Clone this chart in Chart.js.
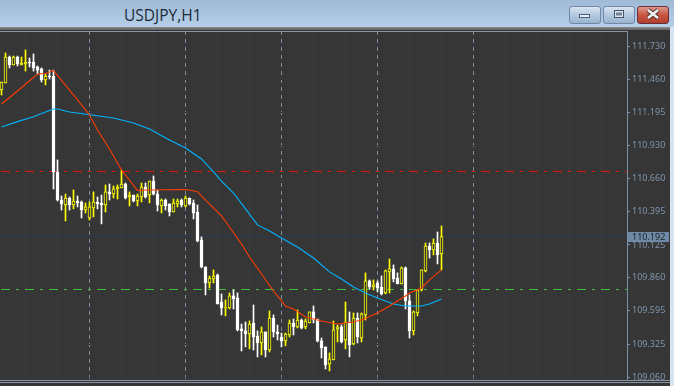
<!DOCTYPE html>
<html><head><meta charset="utf-8">
<script src="https://cdn.jsdelivr.net/npm/chart.js@4"></script>
<style>
html,body{margin:0;padding:0;width:674px;height:386px;overflow:hidden;background:#d6e4f1}
#bar{position:absolute;left:0;top:0;width:674px;height:27px;background:linear-gradient(#9fbad5,#b6cfe8)}
#sep{position:absolute;left:0;top:27px;width:670px;height:3px;background:linear-gradient(#8c8c8c,#5f5f5f)}
#dark{position:absolute;left:0;top:30px;width:670px;height:356px;background:#363636}
#title{position:absolute;left:124px;top:5px;font:15.5px "Open Sans",sans-serif;color:#1b2a3a;line-height:20px}
.btn{position:absolute;top:6px;height:16px;border:1px solid #7189a6;border-radius:3px;box-sizing:content-box;background:linear-gradient(#d9e5f1,#b3c9df 50%,#9ab4cf)}
#b1{left:569px;width:30px}#b2{left:603px;width:30px}
#b3{left:637px;width:30px;border-color:#6a2a3a;background:linear-gradient(#dd9a8c,#c8553f 50%,#b0402f)}
.btn svg{position:absolute;left:0;top:0}
canvas{position:absolute;left:0;top:0}
</style></head><body>
<div id="bar"></div><div id="sep"></div><div id="dark"></div>
<div id="title">USDJPY,H1</div>
<div class="btn" id="b1"><svg width="30" height="16"><rect x="9.5" y="7.5" width="10" height="3" fill="#e8eef5" stroke="#4b5d75"/></svg></div>
<div class="btn" id="b2"><svg width="30" height="16"><rect x="10.5" y="3.5" width="9" height="7" fill="#dfe8f1" stroke="#44546a"/><rect x="12" y="5.5" width="6" height="3" fill="#6f8197"/></svg></div>
<div class="btn" id="b3"><svg width="30" height="16"><path d="M10 3L20 11M20 3L10 11" stroke="#4a2a2a" stroke-width="4.5"/><path d="M10 3L20 11M20 3L10 11" stroke="#eef0f2" stroke-width="2.8"/></svg></div>
<canvas id="c" width="674" height="386"></canvas>
<script>
const opens=[111.375,111.432,111.641,111.577,111.641,111.577,111.585,111.601,111.601,111.561,111.545,111.456,111.488,111.488,110.714,110.488,110.448,110.504,110.448,110.480,110.472,110.407,110.343,110.424,110.472,110.464,110.448,110.553,110.536,110.577,110.585,110.617,110.512,110.528,110.480,110.512,110.593,110.528,110.641,110.536,110.440,110.488,110.456,110.391,110.456,110.488,110.440,110.504,110.464,110.391,110.166,109.948,109.819,109.851,109.883,109.665,109.617,109.617,109.714,109.698,109.448,109.432,109.407,109.496,109.391,109.335,109.424,109.278,109.536,109.424,109.383,109.351,109.399,109.496,109.464,109.520,109.464,109.496,109.585,109.528,109.351,109.303,109.166,109.198,109.448,109.464,109.359,109.496,109.327,109.536,109.375,109.561,109.835,109.786,109.819,109.786,109.738,109.908,109.932,109.859,109.811,109.940,109.674,109.432,109.577,109.762,109.916,110.117,110.085,110.141,110.053];
const closes=[111.440,111.641,111.577,111.641,111.585,111.593,111.601,111.593,111.553,111.536,111.456,111.488,111.480,110.714,110.488,110.456,110.504,110.448,110.480,110.464,110.407,110.432,110.432,110.472,110.456,110.448,110.553,110.536,110.577,110.593,110.617,110.504,110.528,110.480,110.520,110.593,110.512,110.641,110.536,110.448,110.488,110.440,110.391,110.464,110.480,110.448,110.504,110.456,110.383,110.158,109.948,109.819,109.859,109.875,109.649,109.617,109.625,109.714,109.690,109.440,109.432,109.407,109.488,109.383,109.335,109.424,109.278,109.536,109.424,109.407,109.351,109.407,109.496,109.464,109.520,109.456,109.512,109.585,109.520,109.351,109.295,109.157,109.206,109.440,109.464,109.343,109.504,109.319,109.536,109.383,109.569,109.835,109.786,109.803,109.778,109.730,109.916,109.932,109.851,109.811,109.940,109.674,109.432,109.585,109.762,109.924,110.117,110.085,110.141,110.045,110.192];
const highs=[111.440,111.674,111.649,111.649,111.649,111.641,111.698,111.633,111.666,111.569,111.553,111.504,111.536,111.536,110.811,110.520,110.536,110.512,110.569,110.520,110.480,110.464,110.472,110.553,110.512,110.528,110.609,110.617,110.601,110.609,110.730,110.625,110.553,110.528,110.536,110.625,110.625,110.641,110.682,110.569,110.496,110.496,110.456,110.496,110.496,110.496,110.520,110.504,110.488,110.448,110.190,109.948,109.875,109.924,109.891,109.730,109.682,109.738,109.762,109.738,109.488,109.504,109.512,109.641,109.432,109.464,109.424,109.593,109.561,109.480,109.415,109.415,109.520,109.528,109.601,109.528,109.528,109.585,109.633,109.528,109.375,109.303,109.254,109.512,109.480,109.480,109.665,109.585,109.577,109.577,109.577,109.900,109.843,109.843,109.835,109.875,109.924,110.012,109.964,109.900,109.948,109.948,109.722,109.593,109.762,109.924,110.141,110.141,110.174,110.230,110.278];
const lows=[111.335,111.432,111.553,111.577,111.569,111.577,111.528,111.561,111.528,111.504,111.440,111.416,111.464,110.577,110.480,110.407,110.319,110.407,110.416,110.432,110.343,110.383,110.327,110.351,110.416,110.295,110.391,110.488,110.504,110.496,110.585,110.496,110.440,110.472,110.440,110.472,110.504,110.464,110.528,110.399,110.383,110.407,110.359,110.391,110.432,110.432,110.432,110.448,110.335,110.150,109.940,109.722,109.778,109.819,109.649,109.561,109.553,109.609,109.609,109.432,109.270,109.303,109.287,109.278,109.222,109.238,109.222,109.262,109.383,109.359,109.303,109.311,109.383,109.399,109.456,109.448,109.448,109.496,109.496,109.343,109.214,109.125,109.109,109.198,109.343,109.335,109.287,109.222,109.319,109.335,109.343,109.520,109.770,109.762,109.746,109.722,109.730,109.738,109.827,109.811,109.811,109.609,109.375,109.399,109.553,109.754,109.908,110.020,110.045,109.972,109.924];
const redIdx=[0,4,9,11,13,19,22,24,27,30,34,37,46,47,49,50,55,57,60,62,65,68,70,71,73,76,80,84,88,90,94,97,101,102,105,107,110];
const redVal=[111.262,111.367,111.504,111.508,111.532,111.295,111.174,111.053,110.899,110.730,110.565,110.569,110.573,110.569,110.555,110.520,110.359,110.270,110.133,110.028,109.891,109.754,109.674,109.633,109.609,109.544,109.512,109.488,109.504,109.520,109.577,109.633,109.714,109.738,109.778,109.843,109.924];
const blueIdx=[0,4,8,11,13,14,17,22,28,33,37,42,46,50,53,55,58,61,64,67,70,74,78,82,85,88,91,94,98,101,105,107,110];
const blueVal=[111.077,111.120,111.160,111.198,111.222,111.222,111.198,111.176,111.149,111.109,111.061,110.972,110.907,110.819,110.714,110.641,110.544,110.416,110.287,110.238,110.182,110.109,110.020,109.908,109.851,109.786,109.738,109.698,109.649,109.633,109.633,109.649,109.690];
const yTicks=[111.730,111.460,111.195,110.930,110.660,110.395,110.125,109.860,109.595,109.325,109.060];
const redLevel=110.718, greenLevel=109.766, bidPrice=110.192;
const xGrid=[6,14,22,30,38,46,54,62,70,78,86,94,102,110,118,126,134,142,150];
const xMajor=[22,46,70,94,118];
const xMin=-0.375, xMax=156.375, yMin=109.036, yMax=111.851;

const UP='#ffff00', DOWN='#ffffff', BG='#363636', AXIS='#7b90a6';
const cols=closes.map((c,i)=>c>=opens[i]?UP:DOWN);
const hline=(v,col,dash)=>({type:'line',data:[{x:xMin,y:v},{x:xMax,y:v}],borderColor:col,borderWidth:1,borderDash:dash,borderDashOffset:23,pointRadius:0,order:3});
const frame={id:'frame',
 afterDraw(ch){const x=ch.ctx,s=ch.scales.y;
  x.save();
  x.fillStyle='#8794a3';
  x.fillRect(0,31,627,1);
  x.fillRect(0,380,670,1);x.fillRect(0,382,670,1);
  const py=s.getPixelForValue(bidPrice);
  const top=Math.round(py)-5;
  x.fillStyle='#6e8aa6';x.fillRect(628,top,41,10);
  x.fillStyle='#20262c';x.font='9px "Noto Sans",sans-serif';x.textBaseline='middle';x.textAlign='left';
  x.fillText(bidPrice.toFixed(3),632,top+5);
  x.restore();
 }};
new Chart(document.getElementById('c'),{
 data:{datasets:[
  {type:'line',data:redIdx.map((k,i)=>({x:k,y:redVal[i]})),borderColor:'#ff3c00',borderWidth:1.1,pointRadius:0,order:0},
  {type:'line',data:blueIdx.map((k,i)=>({x:k,y:blueVal[i]})),borderColor:'#00b4ff',borderWidth:1.1,pointRadius:0,order:0},
  {type:'bar',data:opens.map((o,i)=>({x:i,y:[o,closes[i]]})),barThickness:3,grouped:false,
    backgroundColor:cols.map(c=>c===UP?BG:DOWN),borderColor:cols,borderWidth:1,borderSkipped:false,order:1},
  {type:'bar',data:highs.map((h,i)=>({x:i,y:[lows[i],h]})),barThickness:1,grouped:false,
    backgroundColor:cols,borderWidth:0,order:2},
  hline(redLevel,'#e81414',[9,6,3,6]),
  hline(greenLevel,'#3ec13e',[9,6,3,6]),
  hline(bidPrice,'#2b3b50',[])
 ]},
 options:{responsive:false,animation:false,events:[],
  layout:{padding:{top:31,bottom:6,left:0,right:4}},
  plugins:{legend:{display:false},tooltip:{enabled:false}},
  scales:{
   x:{type:'linear',offset:false,min:xMin,max:xMax,
     afterBuildTicks(s){s.ticks=xGrid.map(v=>({value:v}));},
     afterFit(s){s.height=0;s.paddingLeft=0;s.paddingRight=0;},
     ticks:{display:false},border:{display:false,dash:[4,4]},
     grid:{offset:false,drawTicks:false,color:c=>xMajor.includes(c.tick&&c.tick.value)?'#7f8b97':'#3e4144'}},
   y:{type:'linear',position:'right',min:yMin,max:yMax,
     afterBuildTicks(s){s.ticks=yTicks.map(v=>({value:v}));},
     afterFit(s){s.width=43;s.paddingTop=0;s.paddingBottom=0;},
     border:{display:true,color:AXIS,dash:[4,4]},
     ticks:{autoSkip:false,padding:2,color:'#7f96ad',font:{family:'"Noto Sans"',size:9},callback:v=>v.toFixed(3)},
     grid:{color:'#2f3b48',tickColor:AXIS,tickLength:3,drawTicks:true}}
  }},
 plugins:[frame]
});
</script>
</body></html>
